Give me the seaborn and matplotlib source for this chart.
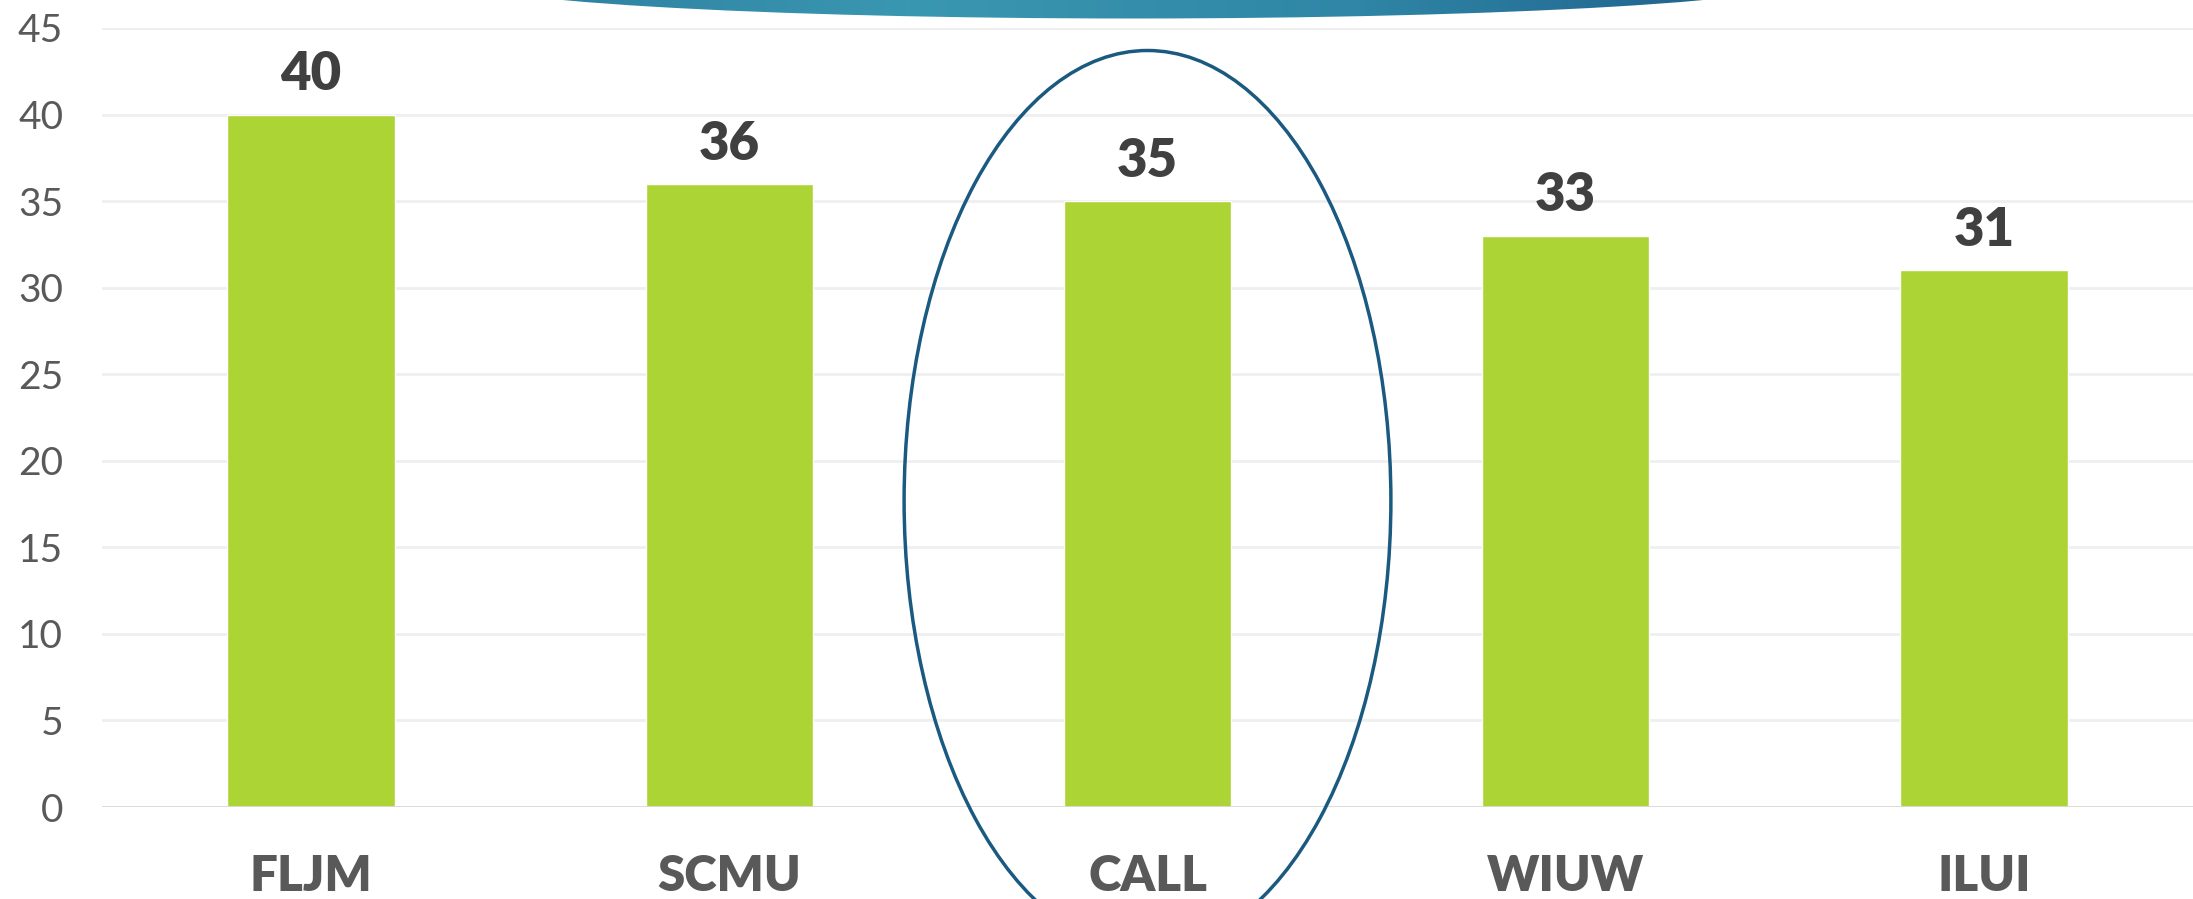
import numpy as np
import pandas as pd
import matplotlib
matplotlib.use('Agg')
import matplotlib.pyplot as plt
from matplotlib.patches import Ellipse
from matplotlib.colors import LinearSegmentedColormap
import seaborn as sns

#%% Data
categories = ['FLJM', 'SCMU', 'CALL', 'WIUW', 'ILUI']
values = [40, 36, 35, 33, 31]
y_ticks = [0, 5, 10, 15, 20, 25, 30, 35, 40, 45]
highlight = 'CALL'

df = pd.DataFrame({'cat': categories, 'val': values})

#%% Style
sns.set_style('white')
plt.rcParams['font.family'] = ['Lato', 'DejaVu Sans']

bar_color = '#acd434'
tick_gray = '#595959'
label_gray = '#404040'

fig = plt.figure(figsize=(21.93, 8.99), dpi=100)
ax = fig.add_axes([102/2193, 92/899, 1 - 102/2193, 779/899])

sns.barplot(x='cat', y='val', data=df, color=bar_color, width=0.4,
            saturation=1, ax=ax, zorder=3)

ax.set_xlim(-0.5, 4.5)
ax.set_ylim(0, 45)
ax.set_yticks(y_ticks)
ax.set_xlabel('')
ax.set_ylabel('')
ax.grid(axis='y', color='#efefef', linewidth=2, zorder=0)
ax.axhline(0, color='#d9d9d9', linewidth=2, zorder=4)
sns.despine(ax=ax, left=True, bottom=True, right=True, top=True)

ax.tick_params(axis='y', length=0, pad=28, labelsize=28, labelcolor=tick_gray)
ax.tick_params(axis='x', length=0, pad=34, labelsize=35.5, labelcolor=tick_gray)
for t in ax.get_yticklabels():
    t.set_fontweight('normal')
for t in ax.get_xticklabels():
    t.set_fontweight('heavy')

ax.bar_label(ax.containers[0], labels=[str(v) for v in values], padding=11,
             fontsize=38, fontweight='heavy', color=label_gray)

# highlight ellipse around the chosen category
idx = categories.index(highlight)
ax.add_patch(Ellipse((idx, 17.7), 1.164, 52.0, fill=False, edgecolor='#1b5a80',
                     linewidth=2.5, clip_on=False, zorder=5))

#%% Decorative swoosh at the top
bg = fig.add_axes([0, 0, 1, 1], zorder=-1)
bg.set_xlim(0, 2193)
bg.set_ylim(899, 0)
bg.axis('off')
cmap = LinearSegmentedColormap.from_list('sw', ['#2a7c9e', '#3a97b1', '#2f86a6', '#1d5a89'])
grad = np.linspace(0, 1, 256).reshape(1, -1)
im = bg.imshow(grad, cmap=cmap, extent=[453, 1813, 19, -65], aspect='auto')
sw = Ellipse((1133, -22), 1360, 81, transform=bg.transData, facecolor='none',
             edgecolor='none')
bg.add_patch(sw)
im.set_clip_path(sw)
bg.set_ylim(899, 0)

fig.savefig('out.png', dpi=100)
